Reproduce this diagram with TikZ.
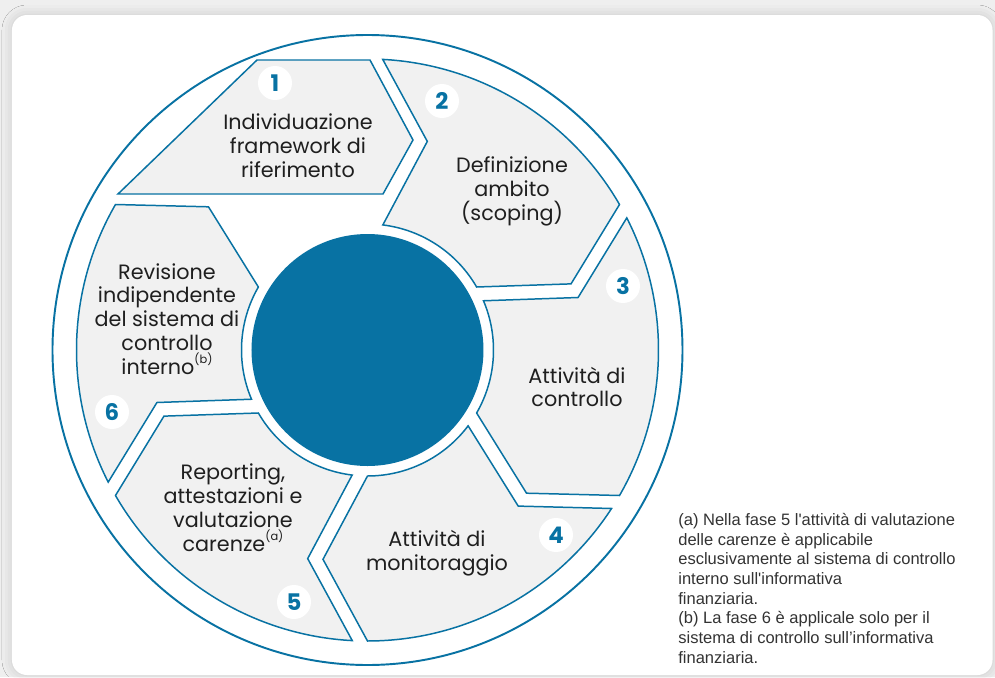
\documentclass[tikz,border=0pt]{standalone}
\usepackage{fontspec}
\setmainfont{Poppins}
\newfontfamily\notefont{Liberation Sans}
\usetikzlibrary{shadows.blur}
\definecolor{ringblue}{HTML}{0872A3}
\definecolor{phasegray}{HTML}{F1F1F1}
\definecolor{pagegray}{HTML}{EFEFEF}
\newcommand{\fnmark}[1]{\raisebox{0.55em}{\fontsize{6.5}{6.5}\selectfont(#1)}}

\begin{document}
\begin{tikzpicture}
[
 x=0.02cm,y=0.02cm,
 phase/.style={draw=ringblue,line width=0.85pt,fill=phasegray},
 num/.style={circle,fill=white,minimum size=0.68cm,inner sep=0pt,text=ringblue,font=\fontsize{13}{13}\selectfont\bfseries},
 txt/.style={align=center,text=black!88,font=\fontsize{11.8}{13.6}\selectfont},
 note/.style={align=left,anchor=north west,inner sep=0pt,text=black!80,font=\notefont\fontsize{9.4}{11.2}\selectfont}
]
\useasboundingbox (-367.5,-327) rectangle (627.5,350);
\fill[pagegray] (-367.5,-327) rectangle (627.5,350);
\fill[white,rounded corners=0.3cm,blur shadow={shadow xshift=0pt,shadow yshift=0pt,shadow blur radius=0.2cm,shadow opacity=16}] (-355.5,-325) rectangle (625,335);

% outer ring and hub
\draw[ringblue,line width=1.1pt] (0,0) circle[radius=315];
\fill[ringblue] (0,0) circle[radius=116];

% the six phases
\draw[phase] (-110.5,290) -- (2.5,290) -- (45.5,210) -- (15.5,156) -- (-249.5,156) -- cycle;
\draw[phase] (87:291) arc[start angle=87,end angle=30,radius=291] -- (18:214) -- (30:126) arc[start angle=30,end angle=83,radius=126] -- (74:217) -- cycle;
\draw[phase] (27:291) arc[start angle=27,end angle=-30,radius=291] -- (-42:214) -- (-30:126) arc[start angle=-30,end angle=23,radius=126] -- (14:217) -- cycle;
\draw[phase] (-33:291) arc[start angle=-33,end angle=-90,radius=291] -- (-102:214) -- (-90:126) arc[start angle=-90,end angle=-37,radius=126] -- (-46:217) -- cycle;
\draw[phase] (-93:291) arc[start angle=-93,end angle=-150,radius=291] -- (-162:214) -- (-150:126) arc[start angle=-150,end angle=-97,radius=126] -- (-106:217) -- cycle;
\draw[phase] (-153:291) arc[start angle=-153,end angle=-210,radius=291] -- (-222:214) -- (-210:126) arc[start angle=-210,end angle=-157,radius=126] -- (-166:217) -- cycle;

% labels
\node (framework) [txt] at (-69.5,204) {Individuazione\\framework di\\riferimento};
\node (scoping) [txt] at (144.5,159) {Definizione\\ambito\\(scoping)};
\node (controllo) [txt] at (209.5,-37) {Attività di\\controllo};
\node (monitoraggio) [txt] at (69.5,-203) {Attività di\\monitoraggio};
\node (reporting) [txt] at (-134.5,-158) {Reporting,\\attestazioni e\\valutazione\\carenze\fnmark{a}};
\node (revisione) [txt] at (-200.5,31) {Revisione\\indipendente\\del sistema di\\controllo\\interno\fnmark{b}};

% numbers
\node (n1) [num] at (-92.5,267) {1};
\node (n2) [num] at (74.5,249) {2};
\node (n3) [num] at (255.5,64) {3};
\node (n4) [num] at (188.5,-185) {4};
\node (n5) [num] at (-73.5,-252) {5};
\node (n6) [num] at (-255.5,-62) {6};

\node (notes) [note] at (310.5,-163) {(a) Nella fase 5 l'attività di valutazione\\delle carenze è applicabile\\esclusivamente al sistema di controllo\\interno sull'informativa\\finanziaria.\\(b) La fase 6 è applicale solo per il\\sistema di controllo sull’informativa\\finanziaria.};
\end{tikzpicture}
\end{document}
